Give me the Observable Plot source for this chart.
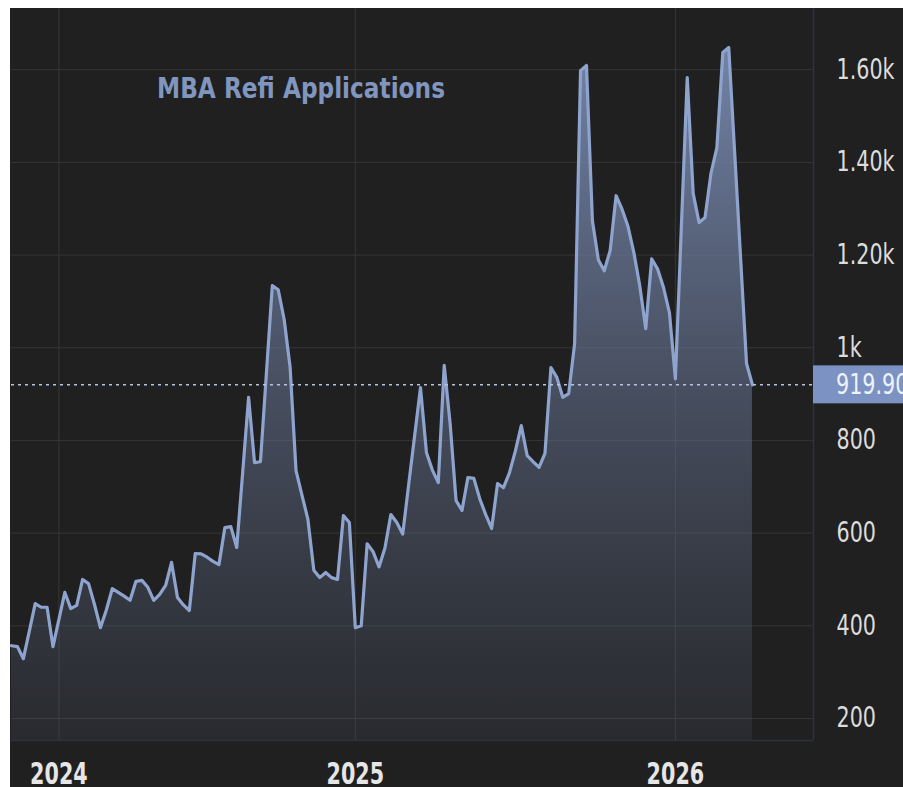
<!DOCTYPE html>
<html><head><meta charset="utf-8">
<script src="https://cdn.jsdelivr.net/npm/d3@7"></script>
<script src="https://cdn.jsdelivr.net/npm/@observablehq/plot@0.6"></script>
<style>
html,body{margin:0;padding:0;background:#ffffff;width:903px;height:787px;overflow:hidden;}
#frame{position:absolute;left:10px;top:8px;width:893px;height:779px;background:#202020;overflow:hidden;}
#chart{position:absolute;left:0;top:0;}
#title{position:absolute;left:147px;top:64px;font-family:"DejaVu Sans",sans-serif;font-weight:bold;font-size:28px;color:#8096bf;transform:scaleX(0.83);transform-origin:0 0;white-space:nowrap;}
</style></head><body>
<div id="frame"><div id="chart"></div><div id="title">MBA Refi Applications</div></div>
<script>
// Weekly MBA refinance index, oldest first
const refiIndex = [
  357, 355, 329, 388, 448, 440, 440, 355, 414, 472,
  437, 444, 500, 491, 446, 396, 434, 480, 472, 464,
  455, 496, 498, 483, 455, 468, 487, 537, 461, 445,
  433, 556, 555, 548, 539, 532, 612, 614, 569, 731,
  893, 752, 754, 944, 1134, 1125, 1061, 958, 735, 682,
  630, 520, 504, 515, 504, 500, 638, 623, 396, 400,
  577, 560, 527, 568, 640, 623, 598, 704, 809, 914,
  774, 736, 709, 962, 836, 670, 649, 720, 718, 674,
  640, 610, 707, 698, 730, 777, 832, 767, 754, 742,
  772, 957, 936, 893, 901, 1009, 1598, 1609, 1274, 1190,
  1166, 1210, 1328, 1299, 1262, 1205, 1133, 1041, 1192, 1170,
  1130, 1075, 933, 1258, 1583, 1333, 1270, 1281, 1376, 1432,
  1637, 1648, 1421, 1194, 966, 919.90
];
// Week index where each calendar year starts, and its label
const yearStartIndex = [8, 58, 112];
const yearLabels = ["2024", "2025", "2026"];
// Value-axis ticks and labels
const yTicks = [200, 400, 600, 800, 1000, 1200, 1400, 1600];
const yTickLabels = ["200", "400", "600", "800", "1k", "1.20k", "1.40k", "1.60k"];
const lastValue = refiIndex[refiIndex.length - 1];
const lastLabel = "919.90";

const xDomain = [0, 135.3];
const yDomain = [152.5, 1732];

const data = refiIndex.map((v, i) => ({i, v}));
const W = 893, H = 779;

const gradientMark = () => {
  const defs = d3.create("svg:defs");
  const g = defs.append("linearGradient").attr("id", "refiGrad")
    .attr("gradientUnits", "userSpaceOnUse").attr("x1", 0).attr("x2", 0).attr("y1", 0).attr("y2", 732);
  g.append("stop").attr("offset", "0%").attr("stop-color", "#7d90b8").attr("stop-opacity", 0.95);
  g.append("stop").attr("offset", "50%").attr("stop-color", "#6a7898").attr("stop-opacity", 0.55);
  g.append("stop").attr("offset", "100%").attr("stop-color", "#5a6580").attr("stop-opacity", 0.15);
  return defs.node();
};

const chart = Plot.plot({
  width: W, height: H,
  marginLeft: 1, marginRight: 90, marginTop: 0, marginBottom: 47,
  style: {background: "#202020", color: "#dcdcdc", fontFamily: "DejaVu Sans, sans-serif", overflow: "hidden"},
  x: {type: "linear", domain: xDomain},
  y: {domain: yDomain},
  marks: [
    gradientMark,
    Plot.gridY(yTicks, {stroke: "#363636", strokeOpacity: 1, strokeWidth: 1}),
    Plot.gridX(yearStartIndex, {stroke: "#363636", strokeOpacity: 1, strokeWidth: 1}),
    Plot.areaY(data, {x: "i", y1: yDomain[0], y2: "v", fill: "url(#refiGrad)"}),
    Plot.lineY(data, {x: "i", y: "v", stroke: "#8ea4ce", strokeWidth: 3.2, strokeLinejoin: "round"}),
    Plot.ruleY([lastValue], {stroke: "#b8c3de", strokeDasharray: "3,4", strokeWidth: 1.5}),
    Plot.ruleY([yDomain[0]], {stroke: "#2c3040", strokeWidth: 1.5}),
    Plot.ruleX([xDomain[1]], {stroke: "#2c3040", strokeWidth: 1.5}),
    Plot.axisY(yTicks, {anchor: "right", tickSize: 0, tickPadding: 23, fontSize: 28, fill: "#dcdcdc",
      tickFormat: d => yTickLabels[yTicks.indexOf(d)], label: null}),
    Plot.axisX(yearStartIndex, {anchor: "bottom", tickSize: 0, tickPadding: 22, fontSize: 30, fontWeight: "bold", fill: "#e6e6e6",
      tickFormat: d => yearLabels[yearStartIndex.indexOf(d)], label: null})
  ]
});
document.getElementById("chart").appendChild(chart);

// horizontally condense text: append a scale to the element's own transform
function squeeze(sel, f) {
  sel.each(function() {
    const tr = this.getAttribute("transform") || "";
    this.setAttribute("transform", `${tr} scale(${f},1)`);
  });
}
const svg = d3.select(chart);
squeeze(svg.selectAll('g[aria-label="y-axis tick label"] text'), 0.74);
squeeze(svg.selectAll('g[aria-label="x-axis tick label"] text'), 0.69);

// last-value badge on the value axis
const yPos = chart.scale("y").apply(lastValue);
const xRight = W - 90;
svg.append("rect").attr("x", xRight).attr("y", yPos - 19).attr("width", 100).attr("height", 38).attr("fill", "#7b92c2");
const t = svg.append("text").attr("transform", `translate(${xRight + 23},${yPos})`).attr("dy", "0.35em")
  .attr("text-anchor", "start").attr("font-size", 28).attr("fill", "#eef2fa")
  .attr("font-family", "DejaVu Sans, sans-serif").text(lastLabel);
squeeze(t, 0.74);
</script>
</body></html>
